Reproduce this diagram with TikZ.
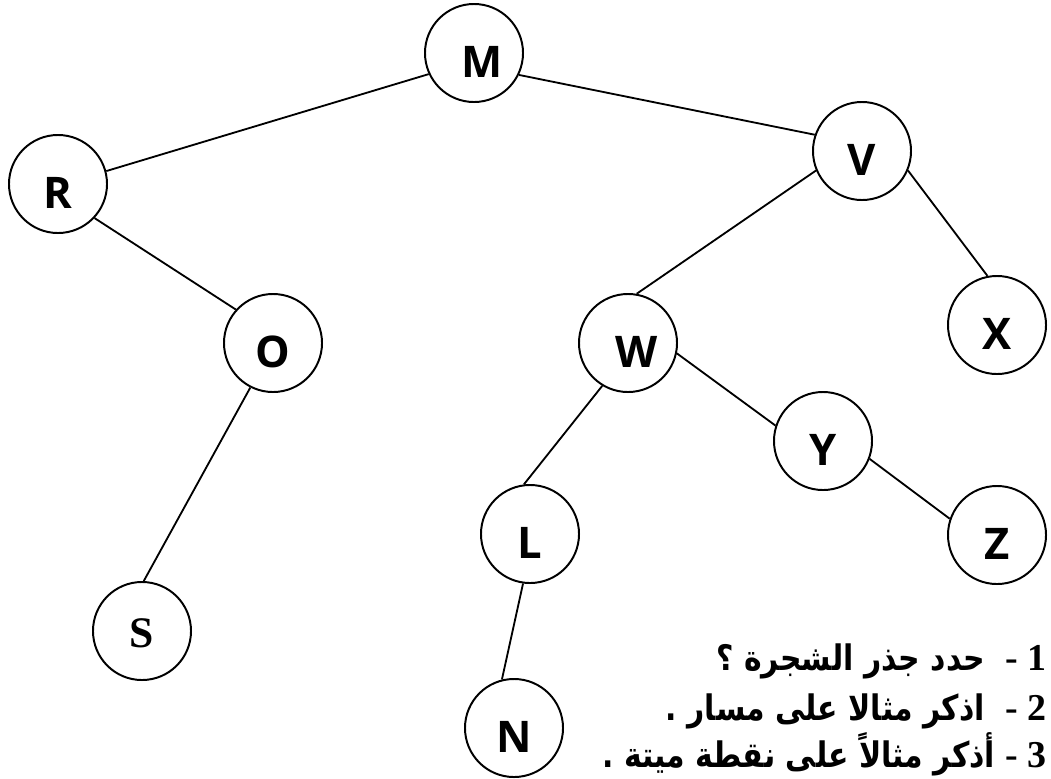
\documentclass[tikz,border=0pt]{standalone}
\usepackage{fontspec}
\newfontfamily\lettfont{Open Sans}
\newfontfamily\serfont{Liberation Serif}
\newfontfamily\arabicfont[Script=Arabic, FakeStretch=0.85]{DejaVu Sans}
\TeXXeTstate=1
\begin{document}
\begin{tikzpicture}[x=0.025cm,y=-0.025cm,
  vertex/.style={circle, draw, line width=1.4pt, minimum size=2.45cm, inner sep=0pt,
    font=\lettfont\bfseries\fontsize{31}{31}\selectfont, text height=1.2cm, text depth=0pt},
  edge/.style={line width=1.3pt},
  quest/.style={anchor=base east, inner sep=0pt, font=\arabicfont\bfseries\fontsize{25}{28}\selectfont}]
\useasboundingbox (0,0) rectangle (1051,778);
% the tree
\node[vertex] (M) at (474,53) {\hspace{0.4cm}M};
\node[vertex] (R) at (58,184) {R};
\node[vertex] (V) at (862,151) {V};
\node[vertex] (O) at (273,343) {O};
\node[vertex] (W) at (628,343) {\hspace{0.45cm}W};
\node[vertex] (X) at (997,325) {X};
\node[vertex] (Y) at (823,441) {Y};
\node[vertex] (Z) at (997,535) {Z};
\node[vertex] (L) at (530,534) {L};
\node[vertex, font=\serfont\bfseries\fontsize{31}{31}\selectfont, text height=0.8cm] (S) at (142,631) {S};
\node[vertex] (N) at (514,728) {N};
\draw[edge] (M.205)--(R.15);
\draw[edge] (M.334)--(V.161);
\draw[edge] (R.317)--(O.138);
\draw[edge] (O.243)--(S.88);
\draw[edge] (V.203)--(W.80);
\draw[edge] (V.337)--(X.101);
\draw[edge] (W.348)--(Y.162);
\draw[edge] (Y.339)--(Z.161);
\draw[edge] (W.239)--(L.97);
\draw[edge] (L.262)--(N.104);
% questions
\node[quest] (q1) at (1047,670) {\beginR{\serfont\fontsize{27}{27}\selectfont 1 -}\ \ حدد جذر الشجرة ؟\endR};
\node[quest] (q2) at (1047,720) {\beginR{\serfont\fontsize{27}{27}\selectfont 2 -}\ \ اذكر مثالا على مسار .\endR};
\node[quest] (q3) at (1047,767) {\beginR{\serfont\fontsize{27}{27}\selectfont 3 -}\ أذكر مثالاً على نقطة ميتة .\endR};
\end{tikzpicture}
\end{document}
